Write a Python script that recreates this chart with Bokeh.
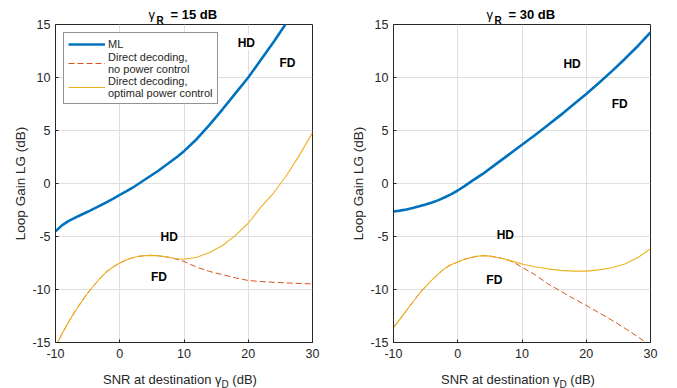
from bokeh.plotting import figure
from bokeh.models import Range1d, FixedTicker, Label, Legend, LegendItem
from bokeh.layouts import row
from bokeh.embed import file_html
from bokeh.resources import INLINE

# ---------------- data ----------------
snr_db = [-10, -9, -8, -7, -6, -5, -4, -3, -2, -1, 0, 1, 2, 3, 4, 5, 6, 7, 8, 9, 10,
          12, 14, 16, 18, 20, 22, 24, 26, 28, 30]

# gamma_R = 15 dB
ml_15 = [-4.5, -3.95, -3.55, -3.25, -2.95, -2.67, -2.37, -2.07, -1.75, -1.42, -1.07,
         -0.75, -0.4, 0.0, 0.4, 0.8, 1.2, 1.65, 2.1, 2.55, 3.05,
         4.2, 5.55, 7.0, 8.5, 10.0, 11.7, 13.4, 15.2, 17.1, 19.0]
nopc_15 = [-15.4, -14.2, -13.1, -12.1, -11.2, -10.35, -9.6, -8.9, -8.3, -7.85, -7.5,
           -7.22, -7.0, -6.87, -6.8, -6.78, -6.82, -6.9, -7.0, -7.17, -7.35,
           -7.9, -8.3, -8.6, -8.9, -9.15, -9.25, -9.32, -9.38, -9.43, -9.47]
opc_15 = [-15.4, -14.2, -13.1, -12.1, -11.2, -10.35, -9.6, -8.9, -8.3, -7.85, -7.5,
          -7.22, -7.0, -6.87, -6.8, -6.78, -6.82, -6.9, -7.0, -7.1, -7.15,
          -6.95, -6.5, -5.85, -4.9, -3.75, -2.2, -0.85, 0.8, 2.7, 4.8]

# gamma_R = 30 dB
ml_30 = [-2.64, -2.56, -2.45, -2.31, -2.15, -1.98, -1.8, -1.57, -1.3, -1.0, -0.66,
         -0.27, 0.15, 0.55, 0.95, 1.4, 1.85, 2.3, 2.75, 3.2, 3.65,
         4.55, 5.5, 6.45, 7.45, 8.45, 9.5, 10.6, 11.75, 12.95, 14.25]
nopc_30 = [-13.6, -12.8, -12.0, -11.2, -10.4, -9.72, -9.1, -8.52, -8.0, -7.65, -7.4,
           -7.15, -7.0, -6.87, -6.8, -6.85, -6.95, -7.08, -7.25, -7.55, -7.9,
           -8.6, -9.45, -10.15, -10.85, -11.5, -12.2, -12.9, -13.65, -14.45, -15.3]
opc_30 = [-13.6, -12.8, -12.0, -11.2, -10.4, -9.72, -9.1, -8.52, -8.0, -7.65, -7.4,
          -7.15, -7.0, -6.87, -6.8, -6.85, -6.95, -7.08, -7.25, -7.42, -7.6,
          -7.85, -8.05, -8.2, -8.27, -8.27, -8.15, -7.95, -7.6, -7.0, -6.15]

x_ticks = [-10, 0, 10, 20, 30]
x_tick_labels = ["-10", "0", "10", "20", "30"]
y_ticks = [-15, -10, -5, 0, 5, 10, 15]
y_tick_labels = ["-15", "-10", "-5", "0", "5", "10", "15"]

gamma_r_values = ["15", "30"]
legend_labels = ["ML", "Direct decoding,\nno power control", "Direct decoding,\noptimal power control"]

region_text = ["HD", "FD", "HD", "FD"]
region_x_15 = [19.7, 26.1, 7.7, 6.1]
region_y_15 = [13.3, 11.4, -5.0, -8.8]
region_x_30 = [17.8, 25.2, 7.4, 5.7]
region_y_30 = [11.3, 7.5, -4.9, -9.1]

# ---------------- styling ----------------
FONT = "Liberation Sans"
AX = "#262626"
C_ML = "#0072BD"
C_NOPC = "#D95319"
C_OPC = "#EDB120"
NBSP = "\u00a0"


def side_label(p, place, **kw):
    # labels in a side panel are not clipped to the plot frame
    lab = Label(text_font=FONT, text_baseline="alphabetic", **kw)
    p.add_layout(lab, place)


def make_panel(gr, ml, nopc, opc, rx, ry, show_legend, width, bl, br):
    p = figure(width=width, height=388, output_backend="svg", toolbar_location=None,
               x_range=Range1d(-10, 30), y_range=Range1d(-15, 15),
               min_border_left=bl, min_border_right=br, min_border_top=24,
               min_border_bottom=46, outline_line_color=AX, outline_line_width=1)
    p.background_fill_color = "white"
    p.border_fill_color = "white"

    # grid
    p.xgrid.ticker = FixedTicker(ticks=x_ticks)
    p.ygrid.ticker = FixedTicker(ticks=y_ticks)
    for g in (p.xgrid, p.ygrid):
        g.grid_line_color = "#dfdfdf"
        g.grid_line_width = 1

    # axes
    p.xaxis.ticker = FixedTicker(ticks=x_ticks)
    p.yaxis.ticker = FixedTicker(ticks=y_ticks)
    p.xaxis.major_label_overrides = {t: l for t, l in zip(x_ticks, x_tick_labels)}
    p.yaxis.major_label_overrides = {t: l for t, l in zip(y_ticks, y_tick_labels)}
    p.yaxis.axis_label = "Loop Gain LG (dB)"
    p.yaxis.axis_label_text_font_style = "normal"
    p.yaxis.axis_label_text_font_size = "13.5px"
    p.yaxis.axis_label_text_font = FONT
    p.yaxis.axis_label_text_color = AX
    p.yaxis.axis_label_standoff = 1
    for ax in (p.xaxis[0], p.yaxis[0]):
        ax.major_label_text_font = FONT
        ax.major_label_text_font_size = "12.5px"
        ax.major_label_text_color = AX
        ax.major_tick_in = 3
        ax.major_tick_out = 0
        ax.minor_tick_line_color = None
        ax.axis_line_color = AX
        ax.major_tick_line_color = AX
    p.xaxis.major_label_standoff = 6
    p.yaxis.major_label_standoff = 5

    # curves
    r_nopc = p.line(snr_db, nopc, line_color=C_NOPC, line_width=1, line_dash="6 3")
    r_opc = p.line(snr_db, opc, line_color=C_OPC, line_width=1.1)
    r_ml = p.line(snr_db, ml, line_color=C_ML, line_width=2.6)

    # region labels
    for t, x, y in zip(region_text, rx, ry):
        p.add_layout(Label(x=x, y=y, text=t, text_align="center", text_baseline="middle",
                           text_font=FONT, text_font_size="12px", text_font_style="bold",
                           text_color="black", background_fill_color="white"))

    # title  (gamma_R = .. dB)
    side_label(p, "above", x=10, y=15, x_offset=-13.5, y_offset=10, text="= " + gr + " dB",
               text_align="left", text_font_size="13px", text_font_style="bold",
               text_color="black")
    side_label(p, "right", x=10, y=15, x_offset=-35.5, y_offset=10, text="\u03b3",
               text_align="left", text_font_size="13px", text_color="black")
    side_label(p, "right", x=10, y=15, x_offset=-27.5, y_offset=4, text="R",
               text_align="left", text_font_size="10px", text_font_style="bold",
               text_color="black")

    # x axis label with subscript
    side_label(p, "below", x=10, y=-15, x_offset=-81, y_offset=-37,
               text="SNR at destination \u03b3" + NBSP * 3 + "(dB)", text_align="left",
               text_font_size="13px", text_color=AX)
    side_label(p, "right", x=10, y=-15, x_offset=37.5, y_offset=-41.5, text="D",
               text_align="left", text_font_size="10px", text_color=AX)

    if show_legend:
        items = [LegendItem(label=legend_labels[0], renderers=[r_ml]),
                 LegendItem(label=legend_labels[1], renderers=[r_nopc]),
                 LegendItem(label=legend_labels[2], renderers=[r_opc])]
        lg = Legend(items=items, location="top_left", margin=8, padding=4, spacing=0,
                    glyph_width=37, glyph_height=14, label_height=14, label_standoff=3,
                    label_text_font=FONT, label_text_font_size="11px",
                    label_text_color=AX, label_text_line_height=1.32,
                    border_line_color=AX, border_line_width=0.8,
                    background_fill_color="white", background_fill_alpha=1.0)
        p.add_layout(lg)
    return p


p1 = make_panel(gamma_r_values[0], ml_15, nopc_15, opc_15, region_x_15, region_y_15,
                True, 340, 55, 28)
p2 = make_panel(gamma_r_values[1], ml_30, nopc_30, opc_30, region_x_30, region_y_30,
                False, 337, 53, 27)

p = row(p1, p2)
open("out.html", "w").write(file_html(p, INLINE))
